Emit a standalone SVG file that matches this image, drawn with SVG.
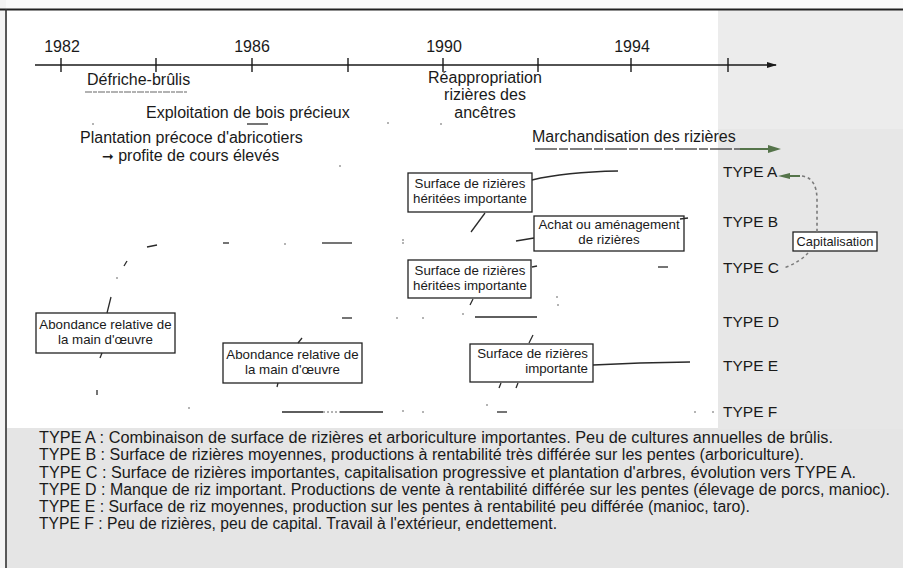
<svg xmlns="http://www.w3.org/2000/svg" width="903" height="568" viewBox="0 0 903 568">
<style>
text{font-family:"Liberation Sans",Arial,Helvetica,sans-serif;fill:#1a1a1a}
.h{font-size:16px}
.bx{font-size:13.3px}
.ty{font-size:15.5px}
.lg{font-size:16px}
.box{fill:#fff;stroke:#222;stroke-width:1.3}
.ln{fill:none;stroke:#2a2a2a;stroke-width:1.3}
.dot{fill:#555}
.grn{fill:#55744a}
</style>
<defs>
<marker id="tl" markerWidth="10" markerHeight="8" refX="9" refY="4" orient="auto" markerUnits="userSpaceOnUse">
<path d="M0,1 L10,4 L0,7 Z" fill="#1a1a1a"/>
</marker>
</defs>

<!-- backgrounds -->
<rect x="0" y="0" width="903" height="568" fill="#e5e5e5"/>
<rect x="0" y="0" width="903" height="9" fill="#fafafa"/>
<rect x="0" y="0" width="6" height="568" fill="#f4f4f4"/>
<rect x="718" y="9" width="185" height="120" fill="#ececec"/>
<rect x="718" y="129" width="185" height="300" fill="#e7e7e7"/>
<rect x="7" y="10" width="711" height="418" fill="#ffffff"/>
<line x1="0" y1="9.5" x2="903" y2="9.5" stroke="#222" stroke-width="2"/>
<line x1="6" y1="9" x2="6" y2="568" stroke="#333" stroke-width="1.6"/>

<!-- timeline -->
<g id="timeline">
<line x1="35" y1="65" x2="776" y2="65" stroke="#1a1a1a" stroke-width="1.4" marker-end="url(#tl)"/>
<g stroke="#1a1a1a" stroke-width="1.4">
<line x1="61" y1="58" x2="61" y2="72"/>
<line x1="156" y1="58" x2="156" y2="72"/>
<line x1="252" y1="58" x2="252" y2="72"/>
<line x1="348" y1="58" x2="348" y2="72"/>
<line x1="443" y1="58" x2="443" y2="72"/>
<line x1="538" y1="58" x2="538" y2="72"/>
<line x1="631" y1="58" x2="631" y2="72"/>
<line x1="728" y1="58" x2="728" y2="72"/>
</g>
<text class="h" x="62" y="52" text-anchor="middle">1982</text>
<text class="h" x="252" y="52" text-anchor="middle">1986</text>
<text class="h" x="444" y="52" text-anchor="middle">1990</text>
<text class="h" x="632" y="52" text-anchor="middle">1994</text>
</g>

<!-- events -->
<g id="defriche">
<text class="h" x="87" y="85">Défriche-brûlis</text>
<line x1="85" y1="92" x2="187" y2="92" stroke="#666" stroke-width="1.2" stroke-dasharray="7 1 4 1"/>
</g>
<g id="exploitation">
<text class="h" x="146" y="118">Exploitation de bois précieux</text>
</g>
<g id="plantation">
<text class="h" x="80" y="143">Plantation précoce d'abricotiers</text>
<text class="h" x="102" y="161"><tspan style="font-family:'DejaVu Sans',sans-serif;font-size:14px">➞</tspan> profite de cours élevés</text>
</g>
<g id="reappropriation">
<text class="h" x="485" y="83" text-anchor="middle">Réappropriation</text>
<text class="h" x="485" y="100" text-anchor="middle">rizières des</text>
<text class="h" x="485" y="118" text-anchor="middle">ancêtres</text>
</g>
<g id="marchandisation">
<text class="h" x="532" y="142">Marchandisation des rizières</text>
<line x1="535" y1="149" x2="745" y2="149" stroke="#555" stroke-width="1.3" stroke-dasharray="22 2 9 2"/>
<line x1="740" y1="149" x2="770" y2="149" stroke="#55744a" stroke-width="2"/>
<path class="grn" d="M768,145 L781,149 L768,153 Z"/>
</g>

<!-- type labels -->
<g id="typeA"><text class="ty" x="723" y="177">TYPE A</text></g>
<g id="typeB"><text class="ty" x="723" y="227">TYPE B</text></g>
<g id="typeC"><text class="ty" x="723" y="273">TYPE C</text></g>
<g id="typeD"><text class="ty" x="723" y="327">TYPE D</text></g>
<g id="typeE"><text class="ty" x="723" y="371">TYPE E</text></g>
<g id="typeF"><text class="ty" x="723" y="417">TYPE F</text></g>

<!-- capitalisation -->
<g id="capitalisation">
<rect class="box" x="793" y="232" width="84" height="19"/>
<text x="835" y="246" text-anchor="middle" style="font-size:12.8px">Capitalisation</text>
</g>

<!-- boxes -->
<g id="surface1">
<rect class="box" x="408" y="173" width="124" height="39"/>
<text class="bx" x="470" y="188" text-anchor="middle">Surface de rizières</text>
<text class="bx" x="470" y="203" text-anchor="middle">héritées importante</text>
</g>
<g id="achat">
<rect class="box" x="534" y="216" width="150" height="35"/>
<text class="bx" x="609" y="229" text-anchor="middle">Achat ou aménagement</text>
<text class="bx" x="609" y="244" text-anchor="middle">de rizières</text>
</g>
<g id="surface2">
<rect class="box" x="408" y="260" width="123" height="38"/>
<text class="bx" x="470" y="275" text-anchor="middle">Surface de rizières</text>
<text class="bx" x="470" y="290" text-anchor="middle">héritées importante</text>
</g>
<g id="surface3">
<rect class="box" x="470" y="344" width="123" height="38"/>
<text class="bx" x="588" y="358" text-anchor="end">Surface de rizières</text>
<text class="bx" x="588" y="373" text-anchor="end">importante</text>
</g>
<g id="abondance1">
<rect class="box" x="36" y="313" width="139" height="40"/>
<text class="bx" x="105.5" y="329" text-anchor="middle">Abondance relative de</text>
<text class="bx" x="105.5" y="344" text-anchor="middle">la main d'œuvre</text>
</g>
<g id="abondance2">
<rect class="box" x="223" y="343" width="139" height="40"/>
<text class="bx" x="292.5" y="359" text-anchor="middle">Abondance relative de</text>
<text class="bx" x="292.5" y="374" text-anchor="middle">la main d'œuvre</text>
</g>

<!-- connectors -->
<g id="connectors">
<path class="ln" d="M532,180 Q565,172 618,171"/>
<path class="ln" d="M485,213 L471,232"/>
<path class="ln" d="M516,241 L534,238"/>
<path class="ln" d="M532,267 L537,266"/>
<path class="ln" d="M658,267 L668,267"/>
<path class="ln" d="M473,299 L470,305"/>
<path class="ln" d="M475,317 L537,317"/>
<path class="ln" d="M533,335 L529,343"/>
<path class="ln" d="M593,365 L640,363 L690,362"/>
<path class="ln" d="M501,383 L499,388 M518,383 L516,388"/>
<path class="ln" d="M497,412 L507,412"/>
<path class="ln" d="M147,247 L157,245"/>
<path class="ln" d="M223,243 L229,243"/>
<path class="ln" d="M322,243 L352,243"/>
<path class="ln" d="M127,261 L124,266"/>
<path class="ln" d="M111,297 L107,313"/>
<path class="ln" d="M102,353 L100,358"/>
<path class="ln" d="M342,318 L352,318"/>
<path class="ln" d="M302,338 L298,343"/>
<path class="ln" d="M278,383 L277,387"/>
<path class="ln" d="M97,390 L97,395"/>
<path class="ln" d="M282,412 L323,412 M340,412 L383,412"/>
<path d="M323,412 L340,412" stroke="#666" stroke-width="1" stroke-dasharray="2 2"/>
<path class="ln" d="M247,124 L268,124"/>
<path class="ln" d="M680,219 L688,218"/>
<g class="dot">
<circle cx="93" cy="124" r="0.8"/><circle cx="388" cy="123" r="0.8"/><circle cx="441" cy="124" r="0.8"/>
<circle cx="340" cy="166" r="0.8"/><circle cx="285" cy="244" r="0.8"/><circle cx="403" cy="243" r="0.8"/>
<circle cx="117" cy="278" r="0.8"/><circle cx="397" cy="318" r="0.8"/><circle cx="423" cy="318" r="0.8"/>
<circle cx="189" cy="408" r="0.8"/><circle cx="403" cy="411" r="0.8"/><circle cx="423" cy="412" r="0.8"/>
<circle cx="463" cy="314" r="0.8"/><circle cx="558" cy="305" r="0.8"/><circle cx="487" cy="405" r="0.8"/>
<circle cx="695" cy="412" r="0.8"/><circle cx="403" cy="240" r="0.8"/><circle cx="557" cy="297" r="0.8"/>
<circle cx="713" cy="412" r="0.8"/>
</g>
<!-- capitalisation links -->
<path class="grn" d="M790,173 L778,176 L790,179 Z"/>
<line x1="788" y1="176" x2="800" y2="176" stroke="#55744a" stroke-width="2"/>
<path d="M802,176 Q817,178 817,200 L817,232" fill="none" stroke="#7a7a7a" stroke-width="1.6" stroke-dasharray="3 3"/>
<path d="M808,253 Q800,262 784,268" fill="none" stroke="#7a7a7a" stroke-width="1.5" stroke-dasharray="3 3"/>
</g>

<!-- legend -->
<g id="legend">
<text class="lg" x="39" y="443" textLength="794" lengthAdjust="spacingAndGlyphs">TYPE A : Combinaison de surface de rizières et arboriculture importantes. Peu de cultures annuelles de brûlis.</text>
<text class="lg" x="39" y="460" textLength="765" lengthAdjust="spacingAndGlyphs">TYPE B : Surface de rizières moyennes, productions à rentabilité très différée sur les pentes (arboriculture).</text>
<text class="lg" x="39" y="478" textLength="817" lengthAdjust="spacingAndGlyphs">TYPE C : Surface de rizières importantes, capitalisation progressive et plantation d'arbres, évolution vers TYPE A.</text>
<text class="lg" x="39" y="495" textLength="851" lengthAdjust="spacingAndGlyphs">TYPE D : Manque de riz important. Productions de vente à rentabilité différée sur les pentes (élevage de porcs, manioc).</text>
<text class="lg" x="39" y="512" textLength="711" lengthAdjust="spacingAndGlyphs">TYPE E : Surface de riz moyennes, production sur les pentes à rentabilité peu différée (manioc, taro).</text>
<text class="lg" x="39" y="529" textLength="518" lengthAdjust="spacingAndGlyphs">TYPE F : Peu de rizières, peu de capital. Travail à l'extérieur, endettement.</text>
</g>
</svg>
